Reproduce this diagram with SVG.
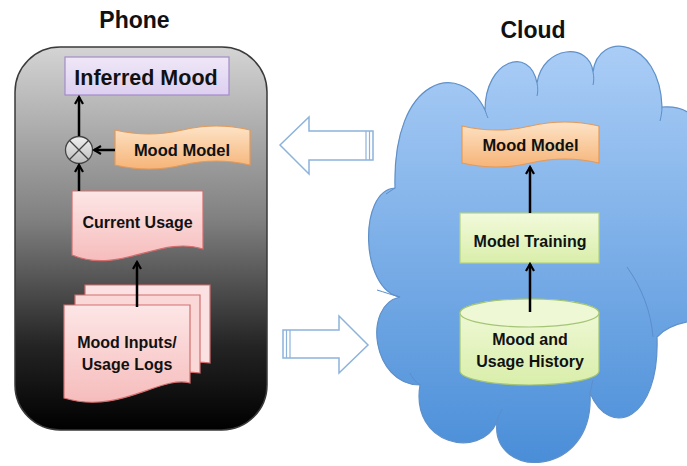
<svg xmlns="http://www.w3.org/2000/svg" width="687" height="466" viewBox="0 0 687 466">
<defs>
<linearGradient id="phoneG" x1="0" y1="0" x2="0" y2="1"><stop offset="0" stop-color="#d4d4d4"/><stop offset="0.45" stop-color="#808080"/><stop offset="0.78" stop-color="#242424"/><stop offset="1" stop-color="#000"/></linearGradient>
<linearGradient id="cloudG" x1="0" y1="0" x2="0" y2="1"><stop offset="0" stop-color="#aacdf6"/><stop offset="1" stop-color="#4a8ed8"/></linearGradient>
<linearGradient id="orangeG" x1="0" y1="0" x2="0" y2="1"><stop offset="0" stop-color="#fde3c6"/><stop offset="1" stop-color="#f6b478"/></linearGradient>
<linearGradient id="pinkG" x1="0" y1="0" x2="0" y2="1"><stop offset="0" stop-color="#fde6e6"/><stop offset="1" stop-color="#f6bcbc"/></linearGradient>
<linearGradient id="purpleG" x1="0" y1="0" x2="0" y2="1"><stop offset="0" stop-color="#efe8f7"/><stop offset="1" stop-color="#dccff0"/></linearGradient>
<linearGradient id="greenG" x1="0" y1="0" x2="0" y2="1"><stop offset="0" stop-color="#f2fadc"/><stop offset="1" stop-color="#d9eeaa"/></linearGradient>
<linearGradient id="grayG" x1="0" y1="0" x2="0" y2="1"><stop offset="0" stop-color="#f0f0f0"/><stop offset="1" stop-color="#bdbdbd"/></linearGradient>
<marker id="ah" viewBox="0 0 10 10" refX="8" refY="5" markerWidth="4" markerHeight="4" orient="auto" markerUnits="strokeWidth">
<path d="M1,1 L8,5 L1,9" fill="none" stroke="#000" stroke-width="2.2"/>
</marker>
</defs>
<style>
text{font-family:"Liberation Sans",Arial,sans-serif;font-weight:bold;fill:#111;text-anchor:middle}
.conn{stroke:#000;stroke-width:2.5;fill:none;marker-end:url(#ah)}
.big{fill:#fff;stroke:#8db3dc;stroke-width:1.5}
.bigl{stroke:#8db3dc;stroke-width:1.2}
.inner{fill:none;stroke:#5c8ecb;stroke-width:1}
</style>

<text x="134.5" y="28" font-size="23">Phone</text>
<text x="533" y="38" font-size="23">Cloud</text>

<g id="phone">
<rect x="15" y="47" width="252" height="383" rx="45" fill="url(#phoneG)" stroke="#3a3a3a" stroke-width="1.5"/>
</g>

<g id="cloud">
<path d="M420,385 C372,385 362,305 400,297 C360,290 358,190 395,188 C392,75 462,60 485,110 C485,60 530,45 537,83 C543,45 590,42 593,72 C598,30 660,38 662,107 C690,105 700,120 700,140 L700,320 C680,322 665,328 657,337 C660,420 610,440 590,393 C595,480 490,480 497,422 C480,460 410,445 420,385 Z" fill="url(#cloudG)" stroke="#5f90c8" stroke-width="1.2"/>
<path class="inner" d="M485,110 C486,113 487,116 488,118"/>
<path class="inner" d="M537,83 C538,88 538,92 537,96"/>
<path class="inner" d="M593,72 C594,77 594,81 593,85"/>
<path class="inner" d="M662,107 C662,112 661,117 660,121"/>
<path class="inner" d="M627,267 C642,288 651,312 653,337"/>
<path class="inner" d="M497,422 C498,417 500,413 502,409"/>
<path class="inner" d="M590,393 C591,388 592,384 593,380"/>
<path class="inner" d="M400,297 C392,295 384,292 377,290"/>
<path class="inner" d="M420,385 C416,382 412,378 410,373"/>
<path class="inner" d="M395,188 C392,190 389,192 386,194"/>
</g>

<g id="arrow-to-phone">
<polygon class="big" points="280,145 309,117 309,131 373,131 373,160 309,160 309,174"/>
<line class="bigl" x1="366" y1="131" x2="366" y2="160"/>
<line class="bigl" x1="369.5" y1="131" x2="369.5" y2="160"/>
</g>
<g id="arrow-to-cloud">
<polygon class="big" points="283,330 339,330 339,316 368,345 339,373 339,358 283,358"/>
<line class="bigl" x1="286.5" y1="330" x2="286.5" y2="358"/>
<line class="bigl" x1="290" y1="330" x2="290" y2="358"/>
</g>

<g id="inferred-mood">
<rect x="65" y="57" width="164" height="38" fill="url(#purpleG)" stroke="#a48bc9" stroke-width="1.2"/>
<text x="146" y="85" font-size="21.5">Inferred Mood</text>
</g>

<g id="combine">
<circle cx="79" cy="150" r="13.5" fill="url(#grayG)" stroke="#444" stroke-width="1.3"/>
<path d="M69.5,140.5 L88.5,159.5 M88.5,140.5 L69.5,159.5" stroke="#444" stroke-width="1.3"/>
</g>

<g id="phone-mood-model">
<path d="M115,130 Q148.75,138 182.5,130 T250,130 L250,165 Q216.25,157 182.5,165 T115,165 Z" fill="url(#orangeG)" stroke="#e39a5a" stroke-width="1.2"/>
<text x="182" y="156" font-size="16.5">Mood Model</text>
</g>

<g id="current-usage">
<path d="M72,191 L203,191 L203,249 C160,235 120,275 72,255 Z" fill="url(#pinkG)" stroke="#d46e6e" stroke-width="1.2"/>
<text x="137.5" y="228" font-size="16">Current Usage</text>
</g>

<g id="mood-inputs">
<path d="M85,285 L210,285 L210,363 C190,360 170,365 150,368 L85,368 Z" fill="#fbe1e1" stroke="#d46e6e" stroke-width="1.2"/>
<path d="M75,295 L200,295 L200,373 C180,370 160,375 140,378 L75,378 Z" fill="#fad8d8" stroke="#d46e6e" stroke-width="1.2"/>
<path d="M64,305 L190,305 L190,383 C160,375 120,415 64,398 Z" fill="url(#pinkG)" stroke="#d46e6e" stroke-width="1.2"/>
<text x="127" y="348" font-size="16">Mood Inputs/</text>
<text x="127" y="370" font-size="16">Usage Logs</text>
</g>

<g id="cloud-mood-model">
<path d="M462,126 Q496.25,134 530.5,126 T599,126 L599,163 Q564.75,155 530.5,163 T462,163 Z" fill="url(#orangeG)" stroke="#e39a5a" stroke-width="1.2"/>
<text x="530.5" y="151" font-size="16.5">Mood Model</text>
</g>

<g id="model-training">
<rect x="460" y="213" width="139" height="50" fill="url(#greenG)" stroke="#b3d383" stroke-width="1.2"/>
<text x="530" y="247" font-size="16">Model Training</text>
</g>

<g id="history">
<path d="M460,313 L460,371 A69.5,14 0 0 0 599,371 L599,313 A69.5,14 0 0 0 460,313 Z" fill="url(#greenG)" stroke="#a5c576" stroke-width="1.2"/>
<ellipse cx="529.5" cy="313" rx="69.5" ry="14" fill="#eef8d4" stroke="#a5c576" stroke-width="1.2"/>
<text x="530" y="345" font-size="16">Mood and</text>
<text x="530" y="367" font-size="16">Usage History</text>
</g>

<g id="connectors">
<line class="conn" x1="79" y1="136" x2="79" y2="97" stroke-width="1.8"/>
<line class="conn" x1="115" y1="150" x2="94" y2="150"/>
<line class="conn" x1="79" y1="191" x2="79" y2="165"/>
<line class="conn" x1="137" y1="307" x2="137" y2="262"/>
<line class="conn" x1="530" y1="213" x2="530" y2="167"/>
<line class="conn" x1="530" y1="312" x2="530" y2="264"/>
</g>
</svg>
